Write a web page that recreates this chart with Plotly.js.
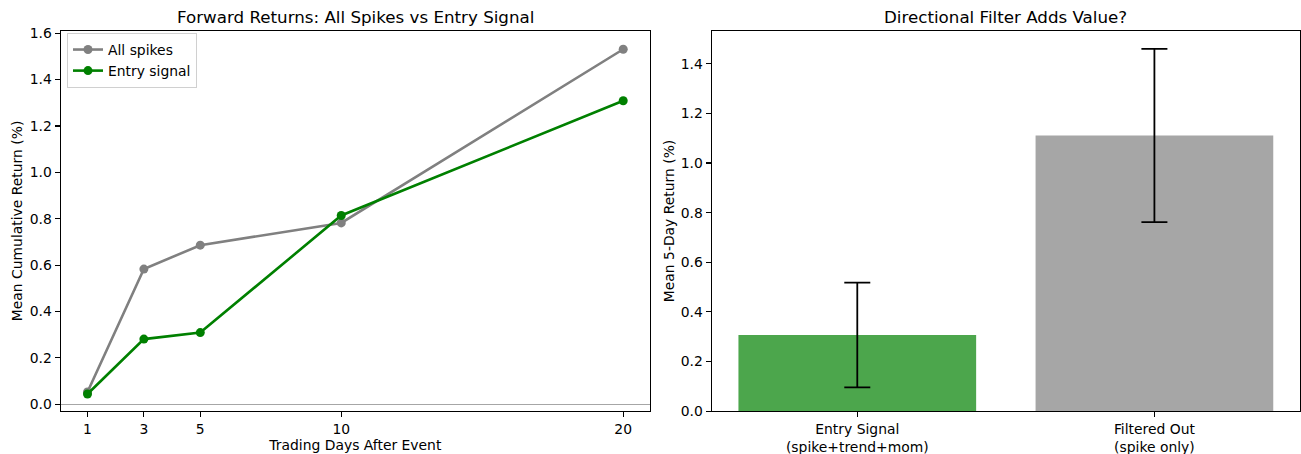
<!DOCTYPE html>
<html>
<head>
<meta charset="utf-8">
<script src="https://cdn.plot.ly/plotly-3.0.1.min.js"></script>
<style>html,body{margin:0;padding:0;background:#fff;}#chart{width:1301px;height:454px;}</style>
</head>
<body>
<div id="chart"></div>
<script>
// ---- data ----
const horizons = [1, 3, 5, 10, 20];
const allSpikes = [0.053, 0.583, 0.686, 0.782, 1.531];
const entrySignal = [0.044, 0.281, 0.309, 0.814, 1.309];
const horizonTicks = ["1", "3", "5", "10", "20"];

const barCategories = ["Entry Signal<br>(spike+trend+mom)", "Filtered Out<br>(spike only)"];
const barMeans = [0.307, 1.111];
const barErrors = [0.211, 0.349];

const W = 1301, H = 454;
const px = v => v / W;
const py = v => (H - v) / H;
const FONT = "DejaVu Sans, sans-serif";

const traces = [
  {
    type: "scatter", mode: "lines+markers", name: "All spikes",
    x: horizons, y: allSpikes, xaxis: "x", yaxis: "y",
    line: {color: "#808080", width: 2.6},
    marker: {color: "#808080", size: 9}
  },
  {
    type: "scatter", mode: "lines+markers", name: "Entry signal",
    x: horizons, y: entrySignal, xaxis: "x", yaxis: "y",
    line: {color: "#008000", width: 2.6},
    marker: {color: "#008000", size: 9}
  },
  {
    type: "bar", x: [0, 1], y: barMeans, xaxis: "x2", yaxis: "y2",
    width: 0.8, showlegend: false,
    marker: {color: ["rgba(0,128,0,0.7)", "rgba(128,128,128,0.7)"], line: {width: 0}},
    error_y: {type: "data", array: barErrors, visible: true, color: "#000", thickness: 1.8, width: 13}
  }
];

const axisCommon = {
  showline: true, mirror: true, linecolor: "#000", linewidth: 1.1,
  ticks: "outside", ticklen: 5, tickwidth: 1.1, tickcolor: "#000",
  showgrid: false, tickfont: {family: FONT, size: 13.9, color: "#000"},
  automargin: false
};

const layout = {
  width: W, height: H,
  margin: {l: 0, r: 0, t: 0, b: 0},
  paper_bgcolor: "#fff", plot_bgcolor: "#fff",
  font: {family: FONT, size: 13.9, color: "#000"},
  showlegend: true,
  legend: {
    x: px(67), y: py(33), xanchor: "left", yanchor: "top",
    bgcolor: "rgba(255,255,255,0.8)", bordercolor: "#d0d0d0", borderwidth: 1,
    font: {family: FONT, size: 13.9, color: "#000"},
    tracegroupgap: 0, itemwidth: 30
  },
  xaxis: Object.assign({}, axisCommon, {
    domain: [px(60.7), px(650)], range: [0.05, 20.95], anchor: "y",
    tickmode: "array", tickvals: horizons, ticktext: horizonTicks, zeroline: false,
    title: {text: "Trading Days After Event", font: {family: FONT, size: 13.9, color: "#000"}, standoff: 3}
  }),
  yaxis: Object.assign({}, axisCommon, {
    domain: [py(411.2), py(30.7)], range: [-0.030, 1.611], anchor: "x",
    tickmode: "array", tickvals: [0, 0.2, 0.4, 0.6, 0.8, 1.0, 1.2, 1.4, 1.6],
    ticktext: ["0.0", "0.2", "0.4", "0.6", "0.8", "1.0", "1.2", "1.4", "1.6"],
    zeroline: true, zerolinecolor: "rgba(128,128,128,0.7)", zerolinewidth: 1.2,
    title: {text: "Mean Cumulative Return (%)", font: {family: FONT, size: 13.9, color: "#000"}, standoff: 3}
  }),
  xaxis2: Object.assign({}, axisCommon, {
    domain: [px(711.7), px(1300)], range: [-0.49, 1.49], anchor: "y2",
    tickmode: "array", tickvals: [0, 1], ticktext: barCategories, zeroline: false
  }),
  yaxis2: Object.assign({}, axisCommon, {
    domain: [py(411.2), py(30.7)], range: [0, 1.533], anchor: "x2",
    tickmode: "array", tickvals: [0, 0.2, 0.4, 0.6, 0.8, 1.0, 1.2, 1.4],
    ticktext: ["0.0", "0.2", "0.4", "0.6", "0.8", "1.0", "1.2", "1.4"],
    zeroline: false,
    title: {text: "Mean 5-Day Return (%)", font: {family: FONT, size: 13.9, color: "#000"}, standoff: 2}
  }),
  annotations: [
    {text: "Forward Returns: All Spikes vs Entry Signal", xref: "paper", yref: "paper",
     x: px(355.4), y: py(17), xanchor: "center", yanchor: "middle", showarrow: false,
     font: {family: FONT, size: 16.7, color: "#000"}},
    {text: "Directional Filter Adds Value?", xref: "paper", yref: "paper",
     x: px(1005.9), y: py(17), xanchor: "center", yanchor: "middle", showarrow: false,
     font: {family: FONT, size: 16.7, color: "#000"}}
  ]
};

Plotly.newPlot("chart", traces, layout, {staticPlot: true, displayModeBar: false});
</script>
</body>
</html>
